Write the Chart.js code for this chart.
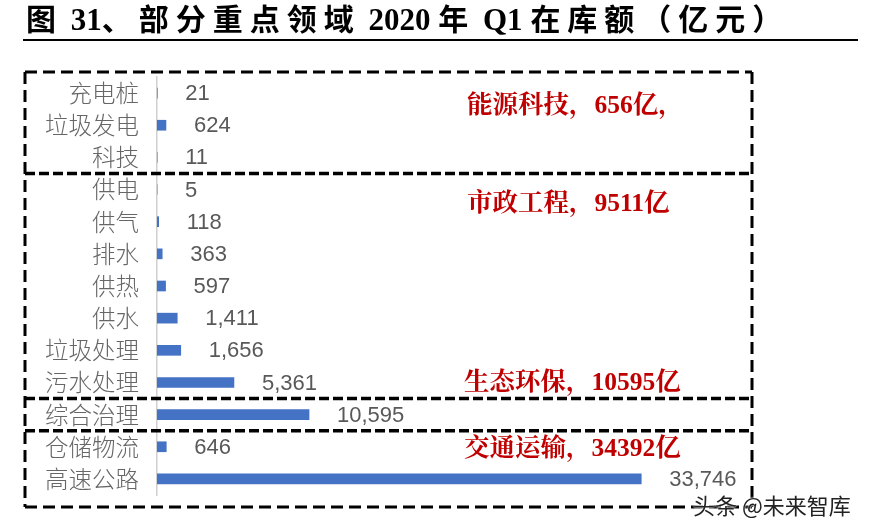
<!DOCTYPE html>
<html><head><meta charset="utf-8">
<script src="https://cdn.jsdelivr.net/npm/chart.js@4.4.1/dist/chart.umd.min.js"></script>
<style>
html,body{margin:0;padding:0;background:#fff;}
#wrap{position:relative;width:869px;height:531px;overflow:hidden;}
#c{position:absolute;left:0;top:0;}
.t{position:absolute;white-space:nowrap;}
#title{left:26px;top:-2px;font:bold 31px "Liberation Serif",serif;color:#000;line-height:38px;}
#title .cj{font-family:"Noto Sans CJK SC",sans-serif;font-size:30px;letter-spacing:7px;}
#rule{position:absolute;left:23px;top:39px;width:835px;height:2px;background:#000;}
.red{font:bold 25.5px "Liberation Serif","Noto Serif CJK SC","Noto Sans CJK SC",serif;color:#c00000;line-height:30px;}
#wm{left:693px;top:491px;font:22px "Noto Sans CJK SC",sans-serif;color:#222;text-shadow:0 0 2px #fff,0 0 2px #fff;line-height:26px;}
</style></head>
<body><div id="wrap">
<canvas id="c" width="869" height="531"></canvas>
<div class="t" id="title"><span class="cj">图</span> 31<span class="cj">、部分重点领域</span> 2020 <span class="cj">年</span> Q1 <span class="cj">在库额（亿元）</span></div>
<div id="rule"></div>
<div class="t red" style="left:467px;top:90px;">能源科技，656亿，</div>
<div class="t red" style="left:467px;top:188px;">市政工程，9511亿</div>
<div class="t red" style="left:464px;top:367px;">生态环保，10595亿</div>
<div class="t red" style="left:464px;top:433px;">交通运输，34392亿</div>
<div class="t" id="wm">头条 @未来智库</div>
</div>
<script>
const categories = ["充电桩","垃圾发电","科技","供电","供气","排水","供热","供水","垃圾处理","污水处理","综合治理","仓储物流","高速公路"];
const values = [21,624,11,5,118,363,597,1411,1656,5361,10595,646,33746];
const groups = [[0,2],[3,9],[10,10],[11,12]];

const labelPlugin = {
  id:'vlabels',
  afterDatasetsDraw(chart){
    const ctx = chart.ctx;
    const meta = chart.getDatasetMeta(0);
    ctx.save();
    ctx.font = '22px "Liberation Sans", Arial, sans-serif';
    ctx.fillStyle = '#595959';
    ctx.textAlign = 'left';
    ctx.textBaseline = 'middle';
    meta.data.forEach((bar,i)=>{
      ctx.fillText(values[i].toLocaleString('en-US'), bar.x + 28, bar.y + 1);
    });
    ctx.restore();
  }
};
const boxPlugin = {
  id:'boxes',
  afterDraw(chart){
    const ctx = chart.ctx;
    const y = chart.scales.y;
    const band = y.getPixelForValue(1) - y.getPixelForValue(0);
    const L = 25, R = 752;
    const top = y.getPixelForValue(groups[0][0]) - band/2 - 5;
    const bot = y.getPixelForValue(groups[groups.length-1][1]) + band/2 + 12;
    const inner = [];
    for(let k=0;k<groups.length-1;k++) inner.push(y.getPixelForValue(groups[k][1]) + band/2);
    ctx.save();
    ctx.strokeStyle = '#000';
    ctx.lineWidth = 3;
    ctx.setLineDash([12,6]);
    const line=(x1,y1,x2,y2)=>{ctx.beginPath();ctx.moveTo(x1,y1);ctx.lineTo(x2,y2);ctx.stroke();};
    line(L,top,R,top);
    line(L,bot,R,bot);
    line(L,top,L,bot);
    line(R,top,R,bot);
    ctx.setLineDash([10,4]);
    ctx.lineWidth = 3.5;
    inner.forEach(v=>line(L,v,R,v));
    ctx.restore();
  }
};

new Chart(document.getElementById('c'), {
  type:'bar',
  data:{labels:categories, datasets:[{data:values, backgroundColor:'#4472c4', barThickness:10}]},
  options:{
    indexAxis:'y',
    responsive:false,
    animation:false,
    devicePixelRatio:1,
    layout:{padding:{left:0,right:138,top:77,bottom:36}},
    plugins:{legend:{display:false},tooltip:{enabled:false},title:{display:false}},
    scales:{
      x:{display:false,min:0,max:40000},
      y:{
        afterFit(s){ s.width = 157; },
        grid:{display:false,drawTicks:false},
        border:{display:true,color:'#d0d0d0',width:1.5},
        ticks:{padding:18,color:'#666666',font:{family:'"Noto Sans CJK SC", sans-serif',size:23.5,weight:'300'}}
      }
    }
  },
  plugins:[labelPlugin, boxPlugin]
});
</script>
</body></html>
